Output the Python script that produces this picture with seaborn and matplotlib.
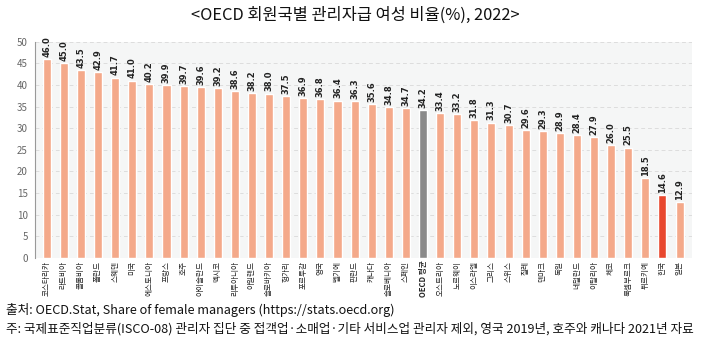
import matplotlib
matplotlib.use("Agg")
import matplotlib.pyplot as plt
import seaborn as sns
import pandas as pd

countries = ["코스타리카", "라트비아", "콜롬비아", "폴란드", "스웨덴", "미국", "에스토니아", "프랑스",
             "호주", "아이슬란드", "멕시코", "리투아니아", "아일랜드", "슬로바키아", "헝가리", "포르투갈",
             "영국", "벨기에", "핀란드", "캐나다", "슬로베니아", "스페인", "OECD 평균", "오스트리아",
             "노르웨이", "이스라엘", "그리스", "스위스", "칠레", "덴마크", "독일", "네덜란드",
             "이탈리아", "체코", "룩셈부르크", "튀르키예", "한국", "일본"]
values = [46.0, 45.0, 43.5, 42.9, 41.7, 41.0, 40.2, 39.9, 39.7, 39.6, 39.2, 38.6, 38.2, 38.0,
          37.5, 36.9, 36.8, 36.4, 36.3, 35.6, 34.8, 34.7, 34.2, 33.4, 33.2, 31.8, 31.3, 30.7,
          29.6, 29.3, 28.9, 28.4, 27.9, 26.0, 25.5, 18.5, 14.6, 12.9]
yticks = [0, 5, 10, 15, 20, 25, 30, 35, 40, 45, 50]

title = "<OECD 회원국별 관리자급 여성 비율(%), 2022>"
source = "출처: OECD.Stat, Share of female managers (https://stats.oecd.org)"
note = "주: 국제표준직업분류(ISCO-08) 관리자 집단 중 접객업·소매업·기타 서비스업 관리자 제외, 영국 2019년, 호주와 캐나다 2021년 자료"

sns.set_theme(style="white")
plt.rcParams['font.family'] = ['Noto Sans CJK KR', 'DejaVu Sans']

df = pd.DataFrame({"country": countries, "value": values})
base = "#f4a98a"
palette = {c: base for c in countries}
palette["OECD 평균"] = "#8a8a8a"
palette["한국"] = "#e8472e"

fig = plt.figure(figsize=(7.1, 3.42), dpi=100)
ax = fig.add_axes([0.049, 0.246, 0.925, 0.632])
ax.set_facecolor("#f5f6f6")
sns.barplot(data=df, x="country", y="value", hue="country", palette=palette,
            width=0.47, saturation=1, legend=False, ax=ax, zorder=3)
ax.set_ylim(0, 50)
ax.set_xlim(-0.7, len(countries) - 0.3)
ax.set_yticks(yticks)
ax.yaxis.grid(True, linestyle=(0, (4, 3)), color="#dddddd", linewidth=0.7, zorder=0)
ax.set_axisbelow(True)
ax.tick_params(axis="y", labelsize=7, colors="#666666", length=3, width=0.6, pad=2)
ax.tick_params(axis="x", labelsize=5.5, length=0, pad=2)
for lbl in ax.get_xticklabels():
    lbl.set_rotation(90)
    if lbl.get_text() == "OECD 평균":
        lbl.set_fontweight("bold")
for s in ["top", "right", "bottom"]:
    ax.spines[s].set_visible(False)
ax.spines["left"].set_color("#999999")
ax.spines["left"].set_linewidth(0.8)
ax.set_xlabel("")
ax.set_ylabel("")

for i, v in enumerate(values):
    ax.text(i, v + 0.5, f"{v:.1f}", rotation=90, ha="center", va="bottom",
            fontsize=6, fontweight="bold", color="#222222",
            family=["Liberation Sans Narrow", "DejaVu Sans"])

fig.text(0.5, 0.955, title, ha="center", va="center", fontsize=11.8, color="#111111")
fig.text(0.008, 0.095, source, ha="left", va="center", fontsize=9.1, color="#111111")
fig.text(0.008, 0.04, note, ha="left", va="center", fontsize=9.1, color="#111111")

fig.savefig("out.png", dpi=100)
